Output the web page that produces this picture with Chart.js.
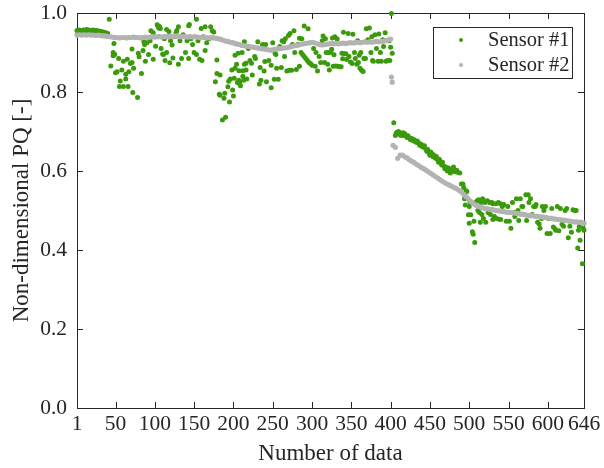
<!DOCTYPE html>
<html>
<head>
<meta charset="utf-8">
<script src="https://cdn.jsdelivr.net/npm/chart.js@4.4.0/dist/chart.umd.min.js"></script>
<style>
  html, body { margin: 0; padding: 0; background: #fff; }
  #wrap { width: 604px; height: 468px; }
</style>
</head>
<body>
<div id="wrap"><canvas id="pqChart" width="604" height="468"></canvas></div>
<script>
// tick labels
const xTicks = [1, 50, 100, 150, 200, 250, 300, 350, 400, 450, 500, 550, 600, 646];
const yTicks = [0, 0.2, 0.4, 0.6, 0.8, 1.0];

// Sensor #1 : data index and value
const sensor1Idx = [
  1,2,3,4,5,6,7,8,9,10, 11,12,13,14,15,16,17,18,19,20,
  21,22,23,24,25,26,27,28,29,30, 31,32,33,34,35,36,37,38,39,40,
  42,44,47,47,48,49,50,52,54,55, 56,58,60,60,63,63,65,66,67,69,
  71,71,72,73,78,79,80,83,85,86, 87,88,90,92,94,95,98,98,101,103,
  104,105,106,107,108,110,111,112,113,115, 115,117,118,119,120,122,123,125,127,128,
  130,130,132,134,136,139,141,143,143,144, 146,148,150,153,153,155,157,159,160,162,
  164,164,166,169,171,173,175,177,179,179, 182,183,183,186,188,189,190,193,194,195,
  196,198,199,200,201,202,202,204,205,206, 207,207,208,208,209,211,212,212,213,214,
  214,216,216,217,219,221,223,224,227,228, 231,233,234,235,237,239,240,241,242,245,
  248,248,250,252,253,254,255,257,259,261, 262,264,265,266,268,270,271,272,274,275,
  277,278,280,282,284,284,286,287,288,290, 290,292,294,295,296,298,300,302,304,305,
  307,309,311,313,314,316,317,318,320,321, 322,324,325,326,327,328,329,330,332,333,
  335,337,338,339,340,341,343,344,346,347, 349,351,352,354,355,357,358,359,360,361,
  362,363,365,366,368,369,371,373,375,376, 377,378,380,382,384,385,387,388,390,391,
  393,394,396,398,399,400,401,402,404,406, 407,408,409,410,411,412,413,414,415,416,
  417,418,420,421,422,424,425,427,428,430, 431,433,434,436,437,439,440,442,443,445,
  446,447,449,450,451,453,454,455,457,458, 460,461,462,464,465,466,468,469,470,472,
  473,475,476,477,479,480,482,484,486,488, 490,492,493,494,495,496,497,499,500,500,
  501,502,504,505,506,507,508,510,511,512, 513,514,515,516,517,518,519,520,521,523,
  524,526,527,529,530,530,532,534,535,537, 538,540,540,542,544,547,549,551,553,555,
  557,558,560,562,563,565,567,568,570,572, 573,575,576,578,580,582,584,585,587,589,
  590,592,593,595,597,599,601,603,605,607, 609,610,612,614,616,618,620,622,624,626,
  628,630,632,634,636,638,639,640,641,642, 644,645,646
];
const sensor1Val = [
  .956,.954,.955,.957,.955,.953,.956,.955,.957,.956, .954,.955,.958,.956,.955,.957,.956,.955,.954,.956,
  .957,.955,.953,.955,.956,.954,.955,.953,.954,.954, .953,.952,.952,.951,.951,.950,.950,.949,.949,.948,
  .984,.866,.900,.892,.923,.895,.849,.851,.885,.814, .828,.856,.878,.814,.845,.833,.883,.814,.851,.872,
  .875,.909,.799,.860,.786,.898,.889,.847,.905,.927, .920,.878,.925,.895,.930,.955,.950,.883,.916,.970,
  .967,.962,.966,.961,.910,.896,.895,.935,.880,.958, .900,.940,.953,.874,.930,.919,.886,.940,.950,.956,
  .965,.870,.930,.885,.945,.900,.930,.968,.885,.971, .935,.920,.900,.984,.895,.930,.883,.961,.880,.940,
  .965,.905,.925,.935,.965,.955,.952,.826,.847,.881, .794,.843,.792,.729,.784,.797,.736,.813,.827,.775,
  .833,.856,.805,.790,.835,.860,.893,.870,.824,.898, .854,.830,.826,.820,.816,.900,.854,.840,.830,.870,
  .927,.873,.856,.833,.910,.880,.873,.843,.890,.885, .927,.820,.862,.830,.920,.853,.877,.920,.826,.880,
  .811,.868,.925,.832,.898,.895,.860,.832,.915,.862, .930,.927,.890,.935,.853,.943,.855,.948,.855,.920,
  .955,.900,.857,.920,.865,.936,.900,.935,.895,.967, .890,.885,.880,.960,.875,.872,.868,.910,.865,.900,
  .853,.890,.875,.930,.942,.875,.935,.900,.870,.900, .856,.900,.908,.937,.865,.894,.940,.866,.934,.865,
  .864,.864,.898,.884,.951,.897,.897,.882,.948,.890, .876,.872,.946,.900,.885,.870,.930,.875,.893,.860,
  .900,.855,.852,.885,.885,.960,.932,.962,.900,.940, .880,.878,.945,.910,.878,.947,.900,.878,.932,.915,
  .950,.878,.880,.930,.880,.913,.999,.898,.722,.690, .695,.698,.695,.700,.693,.697,.690,.695,.692,.697,
  .690,.694,.688,.685,.689,.684,.680,.682,.677,.679, .675,.672,.676,.670,.665,.668,.662,.660,.664,.655,
  .650,.655,.645,.640,.648,.643,.636,.640,.632,.637, .628,.622,.630,.620,.615,.622,.612,.606,.610,.600,
  .608,.600,.595,.605,.600,.610,.598,.602,.596,.595, .567,.567,.558,.530,.514,.550,.548,.489,.468,.510,
  .520,.489,.446,.440,.473,.419,.520,.525,.500,.527, .495,.470,.520,.490,.530,.480,.525,.520,.470,.525,
  .495,.520,.490,.520,.517,.477,.485,.517,.480,.520, .478,.517,.477,.510,.515,.473,.510,.473,.455,.520,
  .495,.485,.530,.500,.475,.530,.510,.510,.490,.540, .475,.540,.520,.530,.490,.510,.510,.515,.470,.466,
  .455,.480,.510,.500,.510,.442,.480,.442,.505,.458, .454,.450,.510,.449,.505,.465,.460,.500,.505,.431,
  .460,.445,.502,.500,.500,.405,.450,.460,.425,.470, .365,.455,.450
];

// Sensor #2 : every 3rd data index before the jump, the two jump points, every 3rd after
const sensor2Step = 3;
const sensor2UpperStart = 1;
const sensor2Upper = [
  .944,.945,.944,.945,.944,.945,.944,.944,.943,.944,.943,.942,.942,   // 1-37
  .941,.940,.939,.938,.938,.937,.938,                                 // 40-58
  .938,.937,.938,.938,.939,.938,.938,.937,.938,.939,
  .938,.939,.940,.939,.940,.940,.939,.940,.941,.940,                  // 61-118
  .941,.941,.942,.941,.940,.941,.940,.939,.940,.939,
  .940,.939,.938,.939,.938,.938,.937,.938,.937,.936,                  // 121-178
  .935,.933,.931,.929,.928,.926,.925,.923,.921,.920,.918,.917,.916,.915, // 181-220
  .914,.913,.912,.911,.910,.909,.908,.907,.906,.907,.908,.909,.910,.911,.912,.912, // 223-268
  .914,.915,.917,.918,.919,.921,.922,.923,.924,.925,.926,.924,.922,.920, // 271-310
  .919,.920,.921,.922,.923,.922,.923,.922,.923,.924,.923,.924,.925,.924,.925,.926, // 313-358
  .925,.926,.927,.926,.927,.926,.927,.928,.927,.928,.929,.930,.932,.934  // 361-400
];
const sensor2JumpIdx = [401, 402];
const sensor2JumpVal = [.838, .825];
const sensor2LowerStart = 403;
const sensor2Lower = [
  .665,.660,.632,.640,.640,.636,.633,.628,.625,.621,
  .617,.613,.609,.606,.602,.598,.594,.590,.586,.582,
  .578,.574,.570,.567,.564,.561,.558,.555,.551,.547,
  .541,.535,.529,.523,.518,.514,.511,.509,.507,.505,
  .504,.503,.502,.501,.500,.499,.498,.497,.496,.495,
  .495,.494,.493,.492,.491,.490,.489,.488,.487,.487,
  .486,.485,.484,.484,.483,.482,.481,.480,.479,.478,
  .477,.477,.476,.475,.474,.473,.472,.471,.471,.470,
  .469,.468
];

const inkColor = '#262626';
const green = '#3a9a0c';
const gray = '#b3b3b3';
const serif = "'Liberation Serif', 'Times New Roman', serif";

function pairs(xs, ys) {
  return xs.map((x, i) => ({ x: x, y: ys[i] }));
}
function stepped(start, step, ys) {
  return ys.map((y, i) => ({ x: start + i * step, y: y }));
}

const sensor2Points = stepped(sensor2UpperStart, sensor2Step, sensor2Upper)
  .concat(pairs(sensor2JumpIdx, sensor2JumpVal))
  .concat(stepped(sensor2LowerStart, sensor2Step, sensor2Lower));

// frame with inward ticks on all four sides
const frameTicks = {
  id: 'frameTicks',
  beforeDatasetsDraw(chart) {
    const { ctx, chartArea: a, scales } = chart;
    const t = 6;
    ctx.save();
    ctx.strokeStyle = inkColor;
    ctx.lineWidth = 1;
    ctx.strokeRect(Math.round(a.left) + 0.5, Math.round(a.top) + 0.5,
      Math.round(a.right - a.left), Math.round(a.bottom - a.top));
    ctx.beginPath();
    xTicks.forEach(v => {
      const px = Math.round(scales.x.getPixelForValue(v)) + 0.5;
      ctx.moveTo(px, a.bottom); ctx.lineTo(px, a.bottom - t);
      ctx.moveTo(px, a.top); ctx.lineTo(px, a.top + t);
    });
    yTicks.forEach(v => {
      const py = Math.round(scales.y.getPixelForValue(v)) + 0.5;
      ctx.moveTo(a.left, py); ctx.lineTo(a.left + t, py);
      ctx.moveTo(a.right, py); ctx.lineTo(a.right - t, py);
    });
    ctx.stroke();
    ctx.restore();
  }
};

// legend box inside the plot, top right
const insideLegend = {
  id: 'insideLegend',
  afterDraw(chart) {
    const { ctx, chartArea: a } = chart;
    const bx = Math.round(a.right) - 151, by = Math.round(a.top) + 14, bw = 139, bh = 51;
    ctx.save();
    ctx.fillStyle = '#fff';
    ctx.fillRect(bx, by, bw, bh);
    ctx.strokeStyle = inkColor;
    ctx.lineWidth = 1;
    ctx.strokeRect(bx + 0.5, by + 0.5, bw, bh);
    ctx.font = '20.5px ' + serif;
    ctx.textAlign = 'left';
    ctx.textBaseline = 'middle';
    chart.data.datasets.forEach((ds, i) => {
      const cy = by + 13 + i * 25;
      ctx.beginPath();
      ctx.arc(bx + 28, cy, 2, 0, Math.PI * 2);
      ctx.fillStyle = ds.backgroundColor;
      ctx.fill();
      ctx.fillStyle = inkColor;
      ctx.fillText(ds.label, bx + 55, cy + 1);
    });
    ctx.restore();
  }
};

Chart.defaults.font.family = serif;
Chart.defaults.color = inkColor;

new Chart(document.getElementById('pqChart'), {
  type: 'scatter',
  data: {
    datasets: [{
      label: 'Sensor #1',
      data: pairs(sensor1Idx, sensor1Val),
      backgroundColor: green,
      borderWidth: 0,
      pointRadius: 2.5,
      clip: false,
      order: 1
    }, {
      label: 'Sensor #2',
      data: sensor2Points,
      backgroundColor: gray,
      borderWidth: 0,
      pointRadius: 2.6,
      clip: false,
      order: 0
    }]
  },
  options: {
    responsive: false,
    animation: false,
    devicePixelRatio: 1,
    layout: { padding: { top: 13, right: 20, left: 0, bottom: 0 } },
    plugins: {
      legend: { display: false },
      tooltip: { enabled: false }
    },
    scales: {
      x: {
        type: 'linear',
        min: 1,
        max: 646,
        grid: { display: false, drawTicks: false },
        border: { display: false },
        afterBuildTicks: s => { s.ticks = xTicks.map(v => ({ value: v })); },
        afterFit: s => { s.height = 60; s.paddingLeft = 0; s.paddingRight = 0; },
        ticks: { autoSkip: false, maxRotation: 0, padding: 3, font: { size: 21.5 }, color: inkColor },
        title: { display: true, text: 'Number of data', font: { size: 23 }, color: inkColor, padding: { top: 0, bottom: 0 } }
      },
      y: {
        min: 0,
        max: 1,
        grid: { display: false, drawTicks: false },
        border: { display: false },
        afterBuildTicks: s => { s.ticks = yTicks.map(v => ({ value: v })); },
        afterFit: s => { s.width = 77; s.paddingTop = 0; s.paddingBottom = 0; },
        ticks: { padding: 10, font: { size: 21.5 }, color: inkColor, callback: v => v.toFixed(1) },
        title: { display: true, text: 'Non-dimensional PQ [-]', font: { size: 23 }, color: inkColor, padding: { top: 8, bottom: 0 } }
      }
    }
  },
  plugins: [frameTicks, insideLegend]
});
</script>
</body>
</html>
